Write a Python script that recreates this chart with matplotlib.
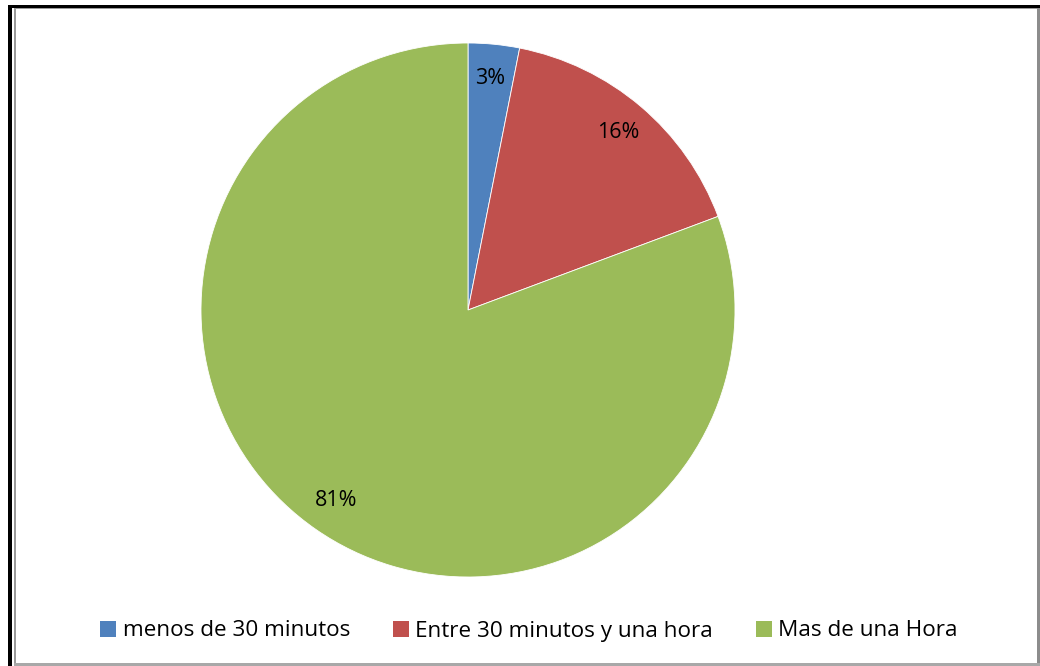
import matplotlib
matplotlib.use('Agg')
from matplotlib import pyplot as plt
from matplotlib.patches import Rectangle

# slice values (percent)
categorias = ['menos de 30 minutos', 'Entre 30 minutos y una hora', 'Mas de una Hora']
valores = [3.1, 16.2, 80.7]
colores = ['#4F81BD', '#C0504D', '#9BBB59']

plt.rcParams['font.family'] = ['Open Sans', 'DejaVu Sans']

W, H = 1040, 666
fig = plt.figure(figsize=(W / 100, H / 100), dpi=100)

# pie axes: center (468, 310), radius 267 px
cx, cy, r = 468, 310, 267
ax = fig.add_axes([(cx - r) / W, (H - cy - r) / H, 2 * r / W, 2 * r / H])
wedges, texts, autotexts = ax.pie(
    valores, colors=colores, startangle=90, counterclock=False,
    autopct='%.0f%%', pctdistance=0.87, radius=1.0,
    wedgeprops=dict(edgecolor='white', linewidth=0.6),
    textprops=dict(fontsize=15.5, color='black'))
ax.set_xlim(-1, 1)
ax.set_ylim(-1, 1)
ax.set_aspect('equal')
ax.axis('off')

# legend along the bottom
handles = [Rectangle((0, 0), 1, 1, facecolor=c, edgecolor='none') for c in colores]
fig.legend(handles, categorias, loc='center', bbox_to_anchor=(529 / W, 1 - 631 / H),
           ncol=3, frameon=False, fontsize=16.2, handlelength=0.7, handleheight=0.7,
           handletextpad=0.3, columnspacing=1.9)

# frame lines (as in the screenshot)
def box(x0, y0, x1, y1, color):
    fig.patches.append(Rectangle((x0 / W, 1 - y1 / H), (x1 - x0) / W, (y1 - y0) / H,
                                 transform=fig.transFigure, facecolor=color,
                                 edgecolor='none', zorder=5))

box(8, 5, W, 8, 'black')
box(8, 5, 12, H, 'black')
box(14, 8, 16, H, '#9a9a9a')
box(14, 8, W, 9, '#9a9a9a')
box(1037, 8, W, H, '#8c8c8c')
box(14, 663, W, H, '#a8a8a8')

plt.savefig('out.png', dpi=100)
